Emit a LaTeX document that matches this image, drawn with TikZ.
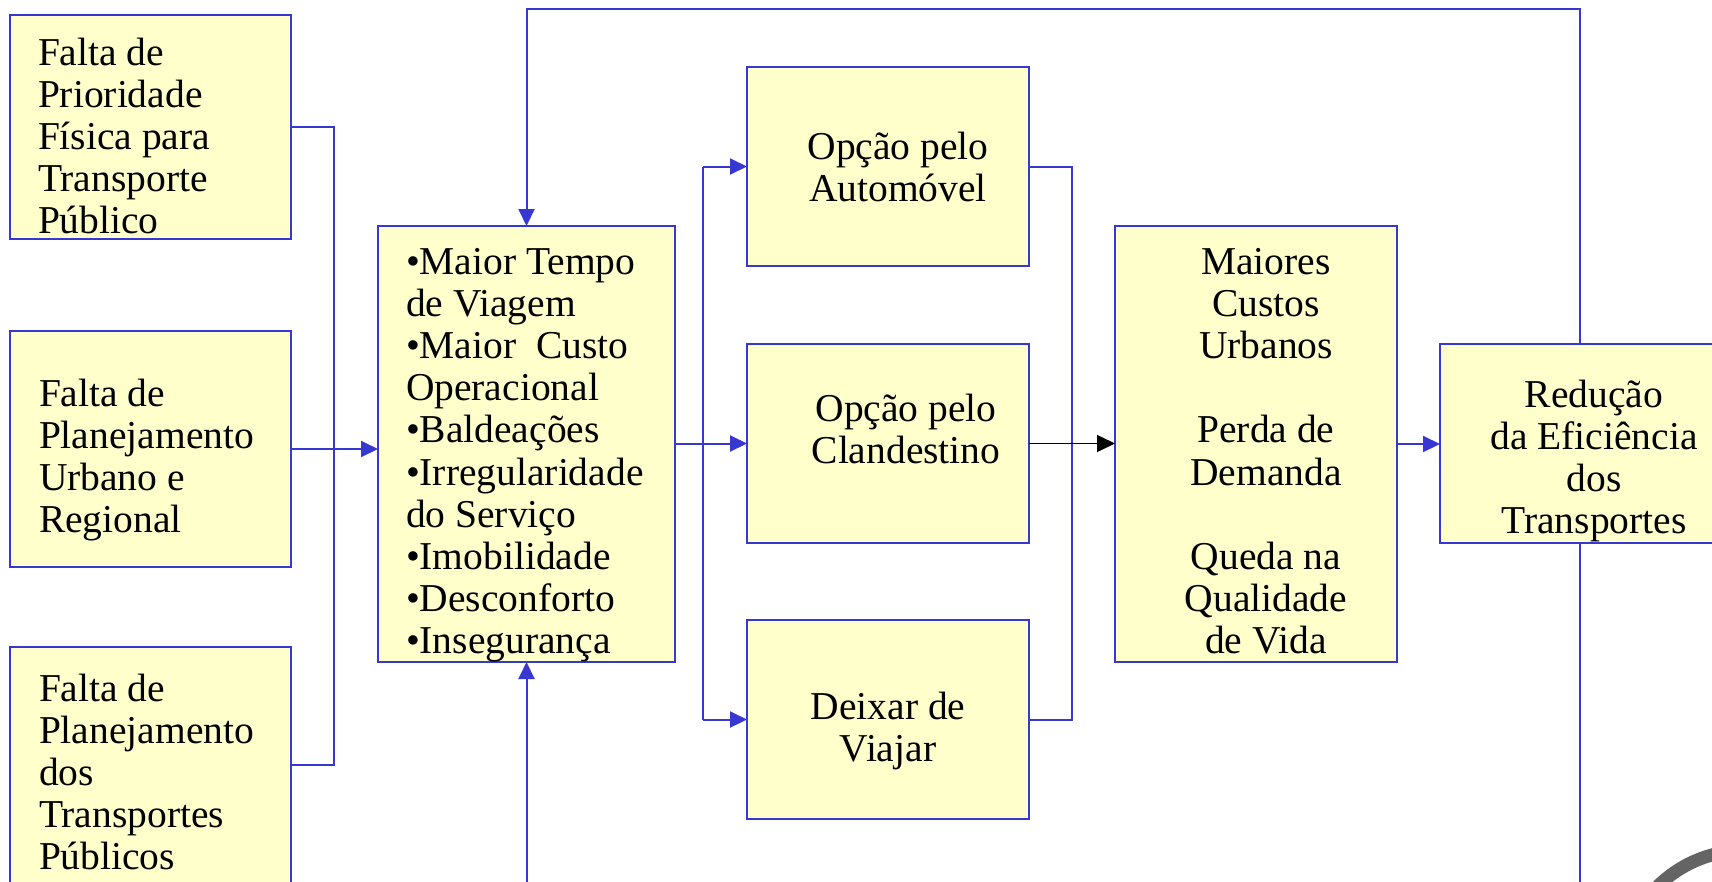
\documentclass[tikz,border=0pt]{standalone}
\usepackage{fontspec}
\setmainfont{Liberation Serif}
\usetikzlibrary{arrows.meta}
\definecolor{lineblue}{RGB}{55,55,210}
\definecolor{boxfill}{RGB}{255,255,204}
\definecolor{logogray}{RGB}{100,100,100}
\newcommand\bxt[5]{\begin{minipage}[c][#2][t]{#1}#4\rule{0pt}{#3}#5\end{minipage}}
\newcommand\lft[1]{\raggedright\leftskip=#1\relax}
\newcommand\ctr[1]{\centering\leftskip=#1 plus 1fil\relax}
\tikzset{
  box/.style={draw=lineblue, fill=boxfill, line width=2pt, inner sep=0pt, outer sep=0pt,
    font=\fontsize{39.5}{42.2}\selectfont},
  conn/.style={draw=lineblue, line width=2pt},
  arr/.style={conn, -{Triangle[length=17pt,width=16pt]}},
  blk/.style={draw=black, line width=1.5pt, -{Triangle[length=18pt,width=17pt]}},
}
\begin{document}
\begin{tikzpicture}[x=1pt,y=-1pt]
\useasboundingbox (0,0) rectangle (1712,881);
\clip (0,0) rectangle (1712,881);
\fill[white] (0,0) rectangle (1712,881);

\node[box] (b1) at (150.5,127) {\bxt{281pt}{224pt}{50pt}{\lft{28pt}}{Falta de\\Prioridade\\Física para\\Transporte\\Público}};
\node[box] (b2) at (150.5,449) {\bxt{281pt}{236pt}{75pt}{\lft{29pt}}{Falta de\\Planejamento\\Urbano e\\Regional}};
\node[box] (b3) at (150.5,765) {\bxt{281pt}{236pt}{54pt}{\lft{29pt}}{Falta de\\Planejamento\\dos\\Transportes\\Públicos}};
\node[box] (bul) at (526.5,444) {\bxt{297pt}{436pt}{48pt}{\lft{28pt}}{•Maior Tempo\\de Viagem\\•Maior\ \ Custo\\Operacional\\•Baldeações\\•Irregularidade\\do Serviço\\•Imobilidade\\•Desconforto\\•Insegurança}};
\node[box] (auto) at (888,166.5) {\bxt{282pt}{199pt}{92pt}{\ctr{20pt}}{Opção pelo\\Automóvel}};
\node[box] (clan) at (888,443.5) {\bxt{282pt}{199pt}{77pt}{\ctr{36pt}}{Opção pelo\\Clandestino}};
\node[box] (deix) at (888,719.5) {\bxt{282pt}{199pt}{99.5pt}{\ctr{0pt}}{Deixar de\\Viajar}};
\node[box] (mai) at (1256,444) {\bxt{282pt}{436pt}{48pt}{\ctr{20pt}}{Maiores\\Custos\\Urbanos\\[42.2pt]Perda de\\Demanda\\[42.2pt]Queda na\\Qualidade\\de Vida}};
\node[box] (red) at (1584,443.5) {\bxt{288pt}{199pt}{63pt}{\ctr{20pt}}{Redução\\da Eficiência\\dos\\Transportes}};

\coordinate (jL) at (334,449);
\coordinate (jM) at (703,444);
\coordinate (jR) at (1072,444);
\coordinate (tL) at (526.5,9);
\coordinate (tR) at (1580,9);
\coordinate (bL) at (526.5,900);
\coordinate (bR) at (1580,900);

\draw[conn] (b1.east) -| (jL);
\draw[conn] (b3.east) -| (jL);
\draw[conn] (b2.east) -- (jL);
\draw[arr] (jL) -- (bul.west |- jL);

\draw[conn] (bul.east) -- (bul.east -| jM);
\draw[conn] (jM |- auto.west) -- (jM |- deix.west);
\draw[arr] (jM |- auto.west) -- (auto.west);
\draw[arr] (jM |- clan.west) -- (clan.west);
\draw[arr] (jM |- deix.west) -- (deix.west);

\draw[conn] (auto.east) -- (auto.east -| jR) -- (deix.east -| jR) -- (deix.east);
\draw[blk] (clan.east) -- (clan.east -| mai.west);
\draw[arr] (mai.east) -- (mai.east -| red.west);

\draw[arr] (red.north -| tR) -- (tR) -- (tL) -- (bul.north);
\draw[conn] (red.south -| bR) -- (bR);
\draw[arr] (bL) -- (bul.south);

\draw[logogray, line width=13pt] (1745,975) circle (124.5pt);
\end{tikzpicture}
\end{document}
